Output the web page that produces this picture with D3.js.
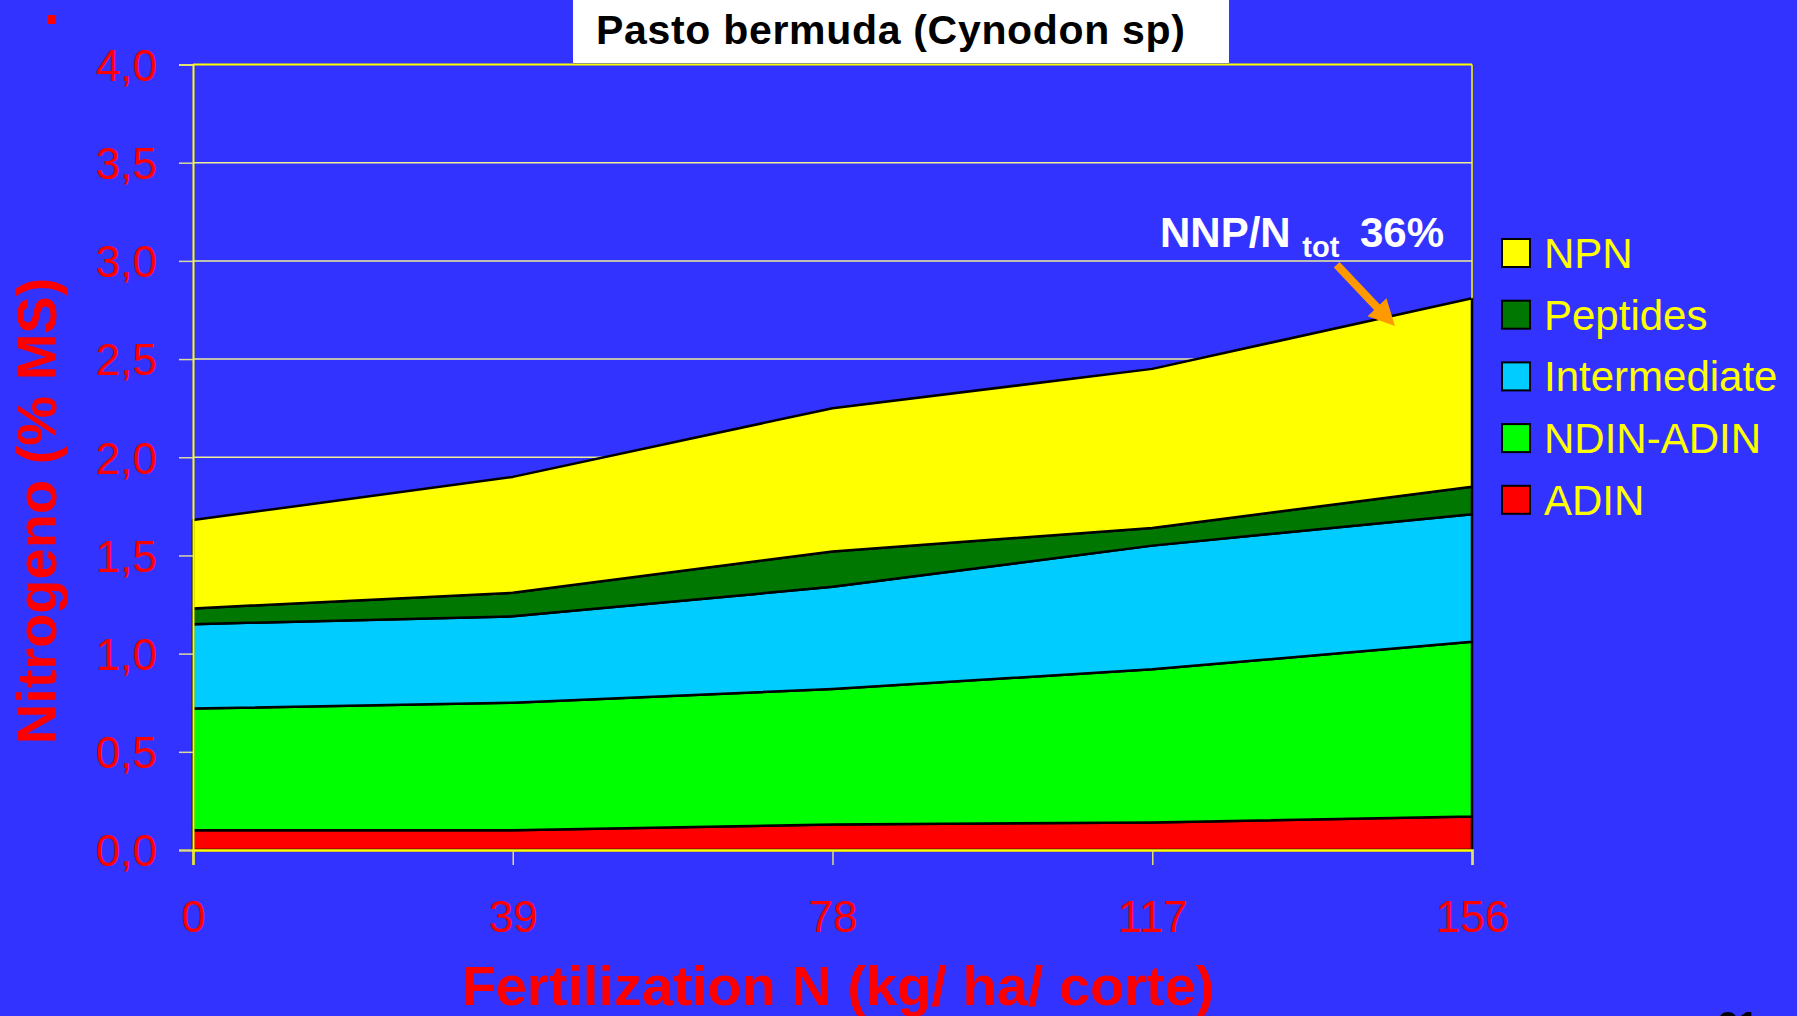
<!DOCTYPE html>
<html>
<head>
<meta charset="utf-8">
<script src="https://cdn.jsdelivr.net/npm/d3@7"></script>
<style>
  html, body { margin: 0; padding: 0; background: #3333ff; overflow: hidden; }
  svg { display: block; }
  text { font-family: "Liberation Sans", Arial, sans-serif; }
</style>
</head>
<body>
<svg id="chart" width="1797" height="1016"></svg>
<script>
// Nitrogen fractions (% DM) of bermudagrass by N fertilization rate
const categories = [0, 39, 78, 117, 156];
const seriesNames = ["ADIN", "NDIN-ADIN", "Intermediate", "Peptides", "NPN"];
const adin = [0.10, 0.10, 0.13, 0.14, 0.17];
const ndinAdin = [0.62, 0.65, 0.69, 0.78, 0.89];
const intermediate = [0.43, 0.44, 0.52, 0.63, 0.65];
const peptides = [0.08, 0.12, 0.18, 0.09, 0.14];
const npn = [0.45, 0.59, 0.73, 0.81, 0.96];
const yTickValues = [0, 0.5, 1.0, 1.5, 2.0, 2.5, 3.0, 3.5, 4.0];
const seriesColors = ["#ff0000", "#00ff00", "#00ccff", "#007700", "#ffff00"];

const seriesValues = [adin, ndinAdin, intermediate, peptides, npn];
const rows = categories.map((c, i) => {
  const r = { rate: c };
  seriesNames.forEach((name, s) => { r[name] = seriesValues[s][i]; });
  return r;
});

const svg = d3.select("#chart");
const W = 1797, H = 1016;
const plot = { left: 193, right: 1472, top: 64.5, bottom: 850 };

svg.append("rect").attr("width", W).attr("height", H).attr("fill", "#3333ff");

// stray slide bullet
svg.append("rect").attr("x", 47).attr("y", 15).attr("width", 9).attr("height", 9).attr("fill", "#ff0000");

// title box
svg.append("rect").attr("x", 573).attr("y", 0).attr("width", 656).attr("height", 63).attr("fill", "#ffffff");
svg.append("text")
  .attr("x", 596).attr("y", 44)
  .attr("font-size", 41).attr("font-weight", "bold").attr("fill", "#000000")
  .attr("textLength", 589).attr("lengthAdjust", "spacing")
  .text("Pasto bermuda (Cynodon sp)");

const x = d3.scalePoint().domain(categories).range([plot.left, plot.right]);
const y = d3.scaleLinear().domain([0, 4]).range([plot.bottom, plot.top]);
const fmt = d3.formatLocale({ decimal: ",", thousands: ".", grouping: [3], currency: ["", ""] }).format(".1f");

// gridlines
svg.append("g").selectAll("line").data(yTickValues.filter(v => v > 0 && v < 4)).join("line")
  .attr("x1", plot.left).attr("x2", plot.right)
  .attr("y1", d => y(d)).attr("y2", d => y(d))
  .attr("stroke", "#eeee99").attr("stroke-width", 1.5);

// stacked areas
const stack = d3.stack().keys(seriesNames);
const layers = stack(rows);
const area = d3.area()
  .x(d => x(d.data.rate))
  .y0(d => y(d[0]))
  .y1(d => y(d[1]));

svg.append("g").selectAll("path").data(layers).join("path")
  .attr("d", area)
  .attr("fill", (d, i) => seriesColors[i])
  .attr("stroke", "#000000")
  .attr("stroke-width", 2.5)
  .attr("stroke-linejoin", "round");

// plot frame: top and right border above the data
svg.append("line").attr("x1", plot.left).attr("x2", plot.right).attr("y1", plot.top).attr("y2", plot.top)
  .attr("stroke", "#ffff00").attr("stroke-width", 2);
const lastTop = layers[layers.length - 1][categories.length - 1][1];
svg.append("line").attr("x1", plot.right).attr("x2", plot.right).attr("y1", plot.top).attr("y2", y(lastTop))
  .attr("stroke", "#ffff00").attr("stroke-width", 1.5);

// y axis
const yAxis = d3.axisLeft(y).tickValues(yTickValues).tickFormat(fmt).tickSize(14).tickPadding(22);
const gy = svg.append("g").attr("transform", `translate(${plot.left},0)`).call(yAxis);
gy.select(".domain").attr("stroke", "#ffff00").attr("stroke-width", 2);
gy.selectAll(".tick line").attr("stroke", "#d8d8a0").attr("stroke-width", 1.5);
gy.selectAll(".tick text")
  .attr("fill", "#ff0000").attr("font-size", 44)
  .attr("font-family", "Liberation Sans, Arial, sans-serif")
  .attr("dy", "0.36em");

// x axis
const xAxis = d3.axisBottom(x).tickSize(15).tickPadding(36).tickFormat(d => String(d));
const gx = svg.append("g").attr("transform", `translate(0,${plot.bottom})`).call(xAxis);
gx.select(".domain").attr("stroke", "#ffff00").attr("stroke-width", 2.5);
gx.selectAll(".tick line").attr("stroke", "#e0e070").attr("stroke-width", 1.5);
gx.selectAll(".tick text")
  .attr("fill", "#ff0000").attr("font-size", 44)
  .attr("font-family", "Liberation Sans, Arial, sans-serif");

// axis titles
svg.append("text")
  .attr("x", 838).attr("y", 1005)
  .attr("text-anchor", "middle")
  .attr("font-size", 56).attr("font-weight", "bold").attr("fill", "#ff0000")
  .text("Fertilization N (kg/ ha/ corte)");
svg.append("text")
  .attr("transform", "translate(56,511) rotate(-90)")
  .attr("text-anchor", "middle")
  .attr("font-size", 56).attr("font-weight", "bold").attr("fill", "#ff0000")
  .text("Nitrogeno (% MS)");

// legend (top of stack first)
const legendItems = seriesNames.map((n, i) => ({ name: n, color: seriesColors[i] })).reverse();
const lg = svg.append("g").selectAll("g").data(legendItems).join("g")
  .attr("transform", (d, i) => `translate(1502,${239 + i * 61.7})`);
lg.append("rect").attr("width", 28).attr("height", 28)
  .attr("fill", d => d.color).attr("stroke", "#000000").attr("stroke-width", 2);
lg.append("text").attr("x", 42).attr("y", 29)
  .attr("font-size", 42).attr("fill", "#ffff00")
  .text(d => d.name);

// NPN share annotation with arrow
const ann = svg.append("text").attr("x", 1160).attr("y", 247)
  .attr("font-size", 42).attr("font-weight", "bold").attr("fill", "#ffffff");
ann.append("tspan").text("NNP/N ");
ann.append("tspan").attr("font-size", 29).attr("dy", 10).text("tot");
ann.append("tspan").attr("x", 1360).attr("dy", -10).text("36%");

const tail = [x(categories[0]) + (x(categories[4]) - x(categories[0])) * (139.5 / 156), y(2.98)];
const tip = [x(categories[0]) + (x(categories[4]) - x(categories[0])) * (146.6 / 156), y(2.668)];
const dx = tip[0] - tail[0], dy = tip[1] - tail[1];
const len = Math.hypot(dx, dy), ux = dx / len, uy = dy / len;
const headLen = 26, headHalf = 13;
const base = [tip[0] - ux * headLen, tip[1] - uy * headLen];
svg.append("line")
  .attr("x1", tail[0]).attr("y1", tail[1]).attr("x2", base[0] + ux * 2).attr("y2", base[1] + uy * 2)
  .attr("stroke", "#ff9900").attr("stroke-width", 8);
svg.append("path")
  .attr("d", d3.line()([
    tip,
    [base[0] - uy * headHalf, base[1] + ux * headHalf],
    [base[0] + uy * headHalf, base[1] - ux * headHalf]
  ]) + "Z")
  .attr("fill", "#ff9900");

// slide number, mostly below the frame
svg.append("text").attr("x", 1718).attr("y", 1038)
  .attr("font-size", 36).attr("font-weight", "bold").attr("fill", "#000000")
  .text("21");
</script>
</body>
</html>
